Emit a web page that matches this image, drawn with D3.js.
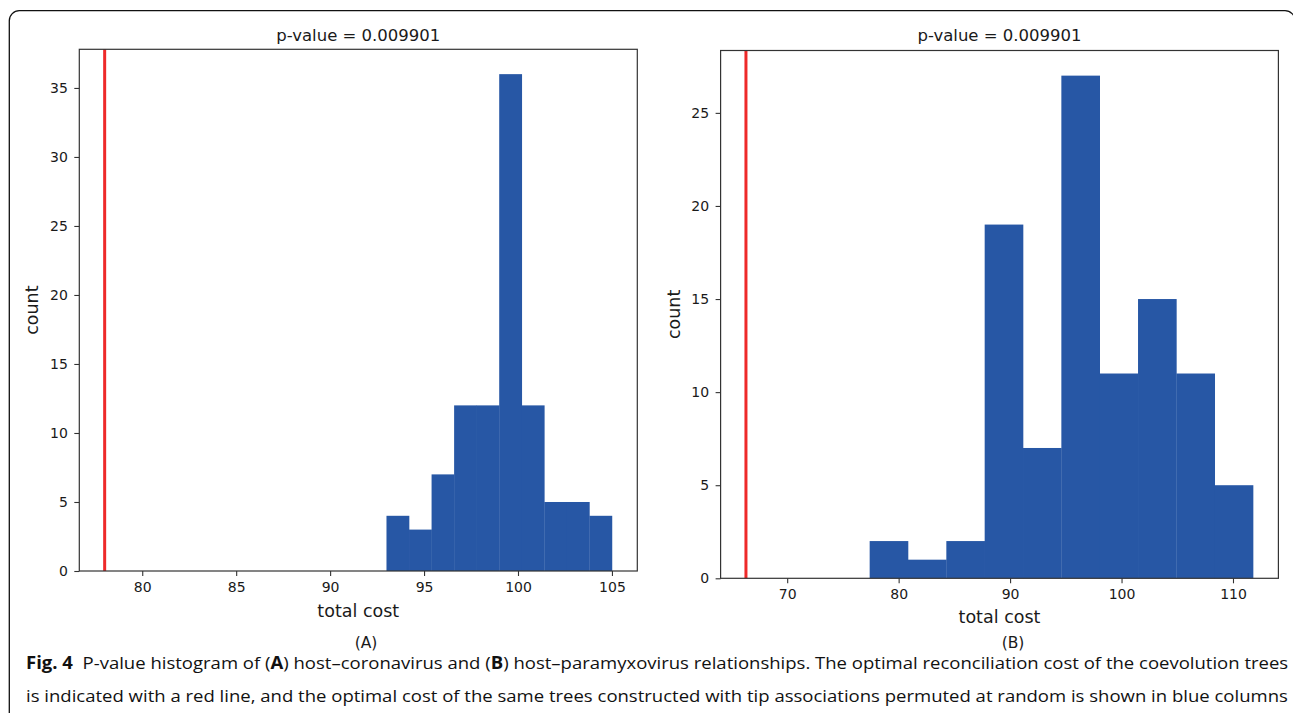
<!DOCTYPE html>
<html>
<head>
<meta charset="utf-8">
<script src="https://cdn.jsdelivr.net/npm/d3@7"></script>
<style>
  body { margin: 0; background: #fff; }
  svg { display: block; }
  .tick text { font-family: "DejaVu Sans", sans-serif; font-size: 14px; fill: #1a1a1a; }
  .tick line { stroke: #333; stroke-width: 1.1; }
</style>
</head>
<body>
<div id="chart"></div>
<script>
"use strict";

// histogram counts (10 bins each)
const countsA = [4, 3, 7, 12, 12, 36, 12, 5, 5, 4];
const binRangeA = [93, 105];
const observedA = 78;
const xTicksA = [80, 85, 90, 95, 100, 105];
const yTicksA = [0, 5, 10, 15, 20, 25, 30, 35];

const countsB = [2, 1, 2, 19, 7, 27, 11, 15, 11, 5];
const binRangeB = [77.4, 111.8];
const observedB = 66.3;
const xTicksB = [70, 80, 90, 100, 110];
const yTicksB = [0, 5, 10, 15, 20, 25];

const titles = ["p-value = 0.009901", "p-value = 0.009901"];
const panelTags = ["(A)", "(B)"];
const xLabel = "total cost";
const yLabel = "count";

const width = 1293,
    height = 713,
    blue = "#2757a5",
    red = "#ee2a2a",
    font = "'DejaVu Sans', sans-serif";

const svg = d3.select("#chart").append("svg")
    .attr("width", width)
    .attr("height", height);

// outer frame with rounded top corners
svg.append("path")
    .attr("d", "M9.3,714 V20.7 A10,10 0 0 1 19.3,10.7 H1285 A10,10 0 0 1 1295,20.7 V714")
    .attr("fill", "none")
    .attr("stroke", "#111")
    .attr("stroke-width", 1.3);

let drawPanel = (p) => {
    var n = p.counts.length,
        binW = (p.range[1] - p.range[0]) / n,
        lo = Math.min(p.observed, p.range[0]),
        hi = p.range[1],
        pad = (hi - lo) * 0.05,

        x = d3.scaleLinear()
            .domain([lo - pad, hi + pad])
            .range([p.left, p.right]),
        y = d3.scaleLinear()
            .domain([0, d3.max(p.counts) * 1.05])
            .range([p.bottom, p.top]),

        g = svg.append("g");

    g.selectAll("rect.bar")
        .data(p.counts)
      .enter().append("rect")
        .attr("class", "bar")
        .attr("x", function(d, i) { return x(p.range[0] + i * binW); })
        .attr("width", function(d, i) { return x(p.range[0] + (i + 1) * binW) - x(p.range[0] + i * binW) + 0.3; })
        .attr("y", function(d) { return y(d); })
        .attr("height", function(d) { return y(0) - y(d); })
        .attr("fill", blue);

    g.append("line")
        .attr("x1", x(p.observed)).attr("x2", x(p.observed))
        .attr("y1", p.top).attr("y2", p.bottom)
        .attr("stroke", red)
        .attr("stroke-width", 3);

    g.append("g")
        .attr("transform", "translate(0," + p.bottom + ")")
        .call(d3.axisBottom(x).tickValues(p.xTicks).tickSize(5).tickPadding(5.7).tickFormat(d3.format("d")))
        .call(function(a) { a.select(".domain").remove(); });

    g.append("g")
        .attr("transform", "translate(" + p.left + ",0)")
        .call(d3.axisLeft(y).tickValues(p.yTicks).tickSize(5).tickPadding(6.5).tickFormat(d3.format("d")))
        .call(function(a) { a.select(".domain").remove(); });

    // spines
    g.append("rect")
        .attr("x", p.left).attr("y", p.top)
        .attr("width", p.right - p.left)
        .attr("height", p.bottom - p.top)
        .attr("fill", "none")
        .attr("stroke", "#333")
        .attr("stroke-width", 1.2);

    var cx = (p.left + p.right) / 2;

    g.append("text")
        .attr("x", cx).attr("y", 40.5)
        .attr("text-anchor", "middle")
        .style("font-family", font).style("font-size", "16.5px").style("fill", "#1a1a1a")
        .text(p.title);

    g.append("text")
        .attr("x", cx).attr("y", p.xLabelY)
        .attr("text-anchor", "middle")
        .style("font-family", font).style("font-size", "17.5px").style("fill", "#1a1a1a")
        .text(xLabel);

    g.append("text")
        .attr("transform", "translate(" + p.yLabelX + "," + ((p.top + p.bottom) / 2) + ") rotate(-90)")
        .attr("text-anchor", "middle")
        .style("font-family", font).style("font-size", "17.5px").style("fill", "#1a1a1a")
        .text(yLabel);

    g.append("text")
        .attr("x", p.tagX).attr("y", 647.5)
        .attr("text-anchor", "middle")
        .style("font-family", font).style("font-size", "15.5px").style("fill", "#1a1a1a")
        .text(p.tag);
};

drawPanel({
    counts: countsA, range: binRangeA, observed: observedA,
    xTicks: xTicksA, yTicks: yTicksA, title: titles[0], tag: panelTags[0],
    left: 79.3, right: 637.3, top: 49.3, bottom: 571,
    xLabelY: 617, yLabelX: 38, tagX: 366
});

drawPanel({
    counts: countsB, range: binRangeB, observed: observedB,
    xTicks: xTicksB, yTicks: yTicksB, title: titles[1], tag: panelTags[1],
    left: 720.6, right: 1278.4, top: 50.5, bottom: 578.3,
    xLabelY: 622.5, yLabelX: 680, tagX: 1013
});

// caption, squeezed to the measured line width
const captionLines = [
    [["Fig. 4", true], ["  P-value histogram of (", false], ["A", true], [") host\u2013coronavirus and (", false], ["B", true],
     [") host\u2013paramyxovirus relationships. The optimal reconciliation cost of the coevolution trees", false]],
    [["is indicated with a red line, and the optimal cost of the same trees constructed with tip associations permuted at random is shown in blue columns", false]]
];
const captionY = [668.5, 702];

captionLines.forEach(function(parts, i) {
    var t = svg.append("text")
        .attr("transform", "translate(26," + captionY[i] + ")")
        .attr("xml:space", "preserve")
        .style("font-family", "'Open Sans', sans-serif")
        .style("font-size", "17px")
        .style("fill", "#111");
    parts.forEach(function(s) {
        t.append("tspan")
            .style("font-weight", s[1] ? "bold" : "normal")
            .text(s[0]);
    });
    var w = t.node().getComputedTextLength();
    t.attr("transform", "translate(26," + captionY[i] + ") scale(" + (1263 / w) + ",1)");
});
</script>
</body>
</html>
